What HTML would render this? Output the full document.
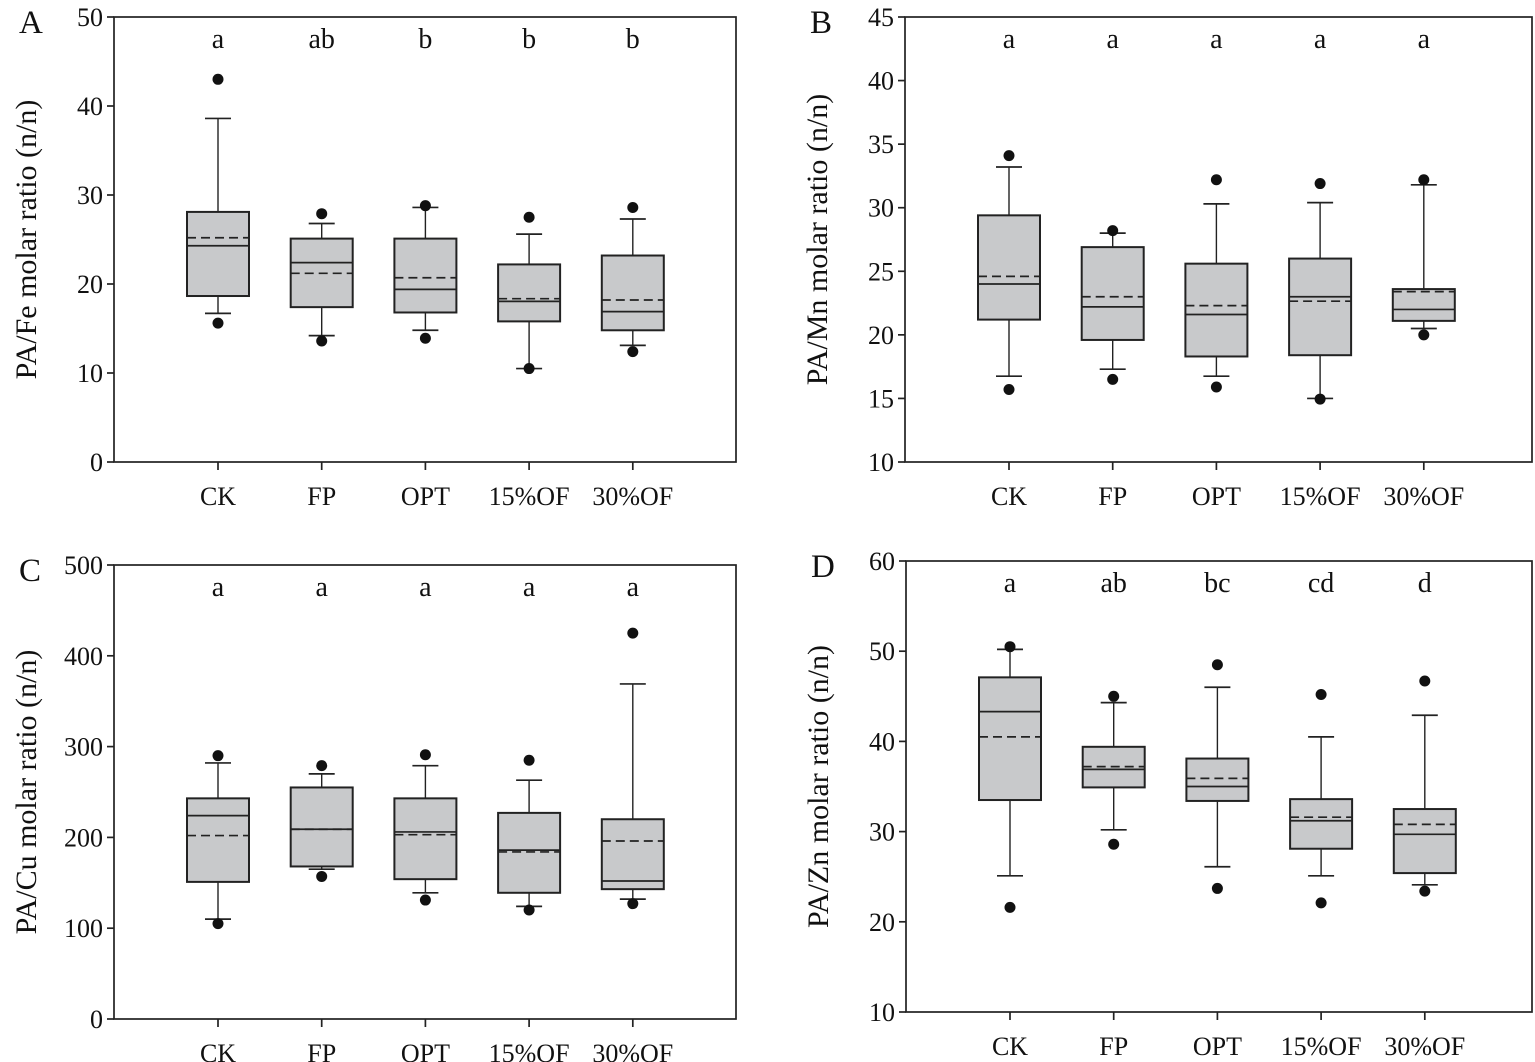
<!DOCTYPE html>
<html><head><meta charset="utf-8"><style>
html,body{margin:0;padding:0;background:#fff;}
svg{display:block;font-family:"Liberation Serif",serif;}
</style></head><body>
<svg id="fig" width="1535" height="1062" viewBox="0 0 1535 1062" xmlns="http://www.w3.org/2000/svg"></svg>
<script>
const categories = ["CK","FP","OPT","15%OF","30%OF"];
// panel A: PA/Fe
const aQ1=[18.65,17.4,16.8,15.8,14.8], aQ3=[28.1,25.1,25.1,22.2,23.2], aMed=[24.3,22.4,19.4,18.05,16.9], aMean=[25.2,21.2,20.7,18.35,18.2];
const aWLo=[16.7,14.2,14.8,10.5,13.1], aWHi=[38.6,26.8,28.6,25.6,27.3], aOutLo=[15.6,13.6,13.9,10.5,12.4], aOutHi=[43,27.9,28.8,27.5,28.6];
const aLetters=["a","ab","b","b","b"], aTicks=[0,10,20,30,40,50];
// panel B: PA/Mn
const bQ1=[21.2,19.6,18.3,18.4,21.1], bQ3=[29.4,26.9,25.6,26.0,23.6], bMed=[24.0,22.2,21.6,23.0,22.0], bMean=[24.6,23.0,22.3,22.65,23.4];
const bWLo=[16.75,17.3,16.75,15.0,20.5], bWHi=[33.2,28.0,30.3,30.4,31.8], bOutLo=[15.7,16.5,15.9,14.95,20.0], bOutHi=[34.1,28.2,32.2,31.9,32.2];
const bLetters=["a","a","a","a","a"], bTicks=[10,15,20,25,30,35,40,45];
// panel C: PA/Cu
const cQ1=[151,168,154,139,143], cQ3=[243,255,243,227,220], cMed=[224,209,206,186,152], cMean=[202,209,203,184,196];
const cWLo=[110,165,139,124,132], cWHi=[282,270,279,263,369], cOutLo=[105,157,131,120,127], cOutHi=[290,279,291,285,425];
const cLetters=["a","a","a","a","a"], cTicks=[0,100,200,300,400,500];
// panel D: PA/Zn
const dQ1=[33.5,34.9,33.4,28.1,25.4], dQ3=[47.1,39.4,38.1,33.6,32.5], dMed=[43.3,36.9,35.0,31.2,29.7], dMean=[40.5,37.2,35.9,31.6,30.8];
const dWLo=[25.1,30.2,26.1,25.1,24.1], dWHi=[50.2,44.3,46.0,40.5,42.9], dOutLo=[21.6,28.6,23.7,22.1,23.4], dOutHi=[50.5,45.0,48.5,45.2,46.7];
const dLetters=["a","ab","bc","cd","d"], dTicks=[10,20,30,40,50,60];

const NS="http://www.w3.org/2000/svg";
const svg=document.getElementById("fig");
function mk(tag,attrs,parent){const e=document.createElementNS(NS,tag);for(const k in attrs)e.setAttribute(k,attrs[k]);(parent||svg).appendChild(e);return e;}

function panel(p){
  const g=mk("g",{});
  
  
  const ymin=p.ticks[0], ymax=p.ticks[p.ticks.length-1];
  const y=v=>p.y1-(v-ymin)/(ymax-ymin)*(p.y1-p.y0);
  const x=i=>p.x0+104+i*103.7;
  const frame=mk("rect",{x:p.x0,y:p.y0,width:p.x1-p.x0,height:p.y1-p.y0,fill:"none",stroke:"#222","stroke-width":1.7},g);
  
  
  const pl=mk("text",{x:p.x0-95,y:p.y0+16,"font-size":33,fill:"#111"},g);pl.textContent=p.id;
  
  
  p.ticks.forEach(t=>{
    mk("line",{x1:p.x0-7,x2:p.x0,y1:y(t),y2:y(t),stroke:"#222","stroke-width":1.7},g);
    const tl=mk("text",{x:p.x0-11,y:y(t)+9,"font-size":26,"text-anchor":"end",fill:"#111"},g);tl.textContent=t;
    
    
  });
  const yt=mk("text",{transform:`translate(${p.x0-78},${(p.y0+p.y1)/2}) rotate(-90)`,"font-size":30,"text-anchor":"middle",fill:"#111"},g);
  yt.textContent=p.title;
  
  
  categories.forEach((c,i)=>{
    const cx=x(i), hw=31;
    mk("line",{x1:cx,x2:cx,y1:p.y1,y2:p.y1+8,stroke:"#222","stroke-width":1.7},g);
    const xl=mk("text",{x:cx,y:p.y1+43,"font-size":26,"text-anchor":"middle",fill:"#111"},g);xl.textContent=c;
    
    
    const lt=mk("text",{x:cx,y:p.y0+31,"font-size":28,"text-anchor":"middle",fill:"#111"},g);lt.textContent=p.letters[i];
    
    
    const bg=mk("g",{},g);
    
    
    mk("line",{x1:cx,x2:cx,y1:y(p.q3[i]),y2:y(p.wHi[i]),stroke:"#222","stroke-width":1.4},bg);
    mk("line",{x1:cx,x2:cx,y1:y(p.q1[i]),y2:y(p.wLo[i]),stroke:"#222","stroke-width":1.4},bg);
    mk("line",{x1:cx-13,x2:cx+13,y1:y(p.wHi[i]),y2:y(p.wHi[i]),stroke:"#222","stroke-width":1.7},bg);
    mk("line",{x1:cx-13,x2:cx+13,y1:y(p.wLo[i]),y2:y(p.wLo[i]),stroke:"#222","stroke-width":1.7},bg);
    mk("rect",{x:cx-hw,y:y(p.q3[i]),width:2*hw,height:y(p.q1[i])-y(p.q3[i]),fill:"#c8c9cb",stroke:"#222","stroke-width":2},bg);
    mk("line",{x1:cx-hw,x2:cx+hw,y1:y(p.med[i]),y2:y(p.med[i]),stroke:"#222","stroke-width":1.7},bg);
    mk("line",{x1:cx-hw,x2:cx+hw,y1:y(p.mean[i]),y2:y(p.mean[i]),stroke:"#222","stroke-width":1.7,"stroke-dasharray":"9,5"},bg);
    mk("circle",{cx:cx,cy:y(p.outHi[i]),r:5.5,fill:"#111"},bg);
    mk("circle",{cx:cx,cy:y(p.outLo[i]),r:5.5,fill:"#111"},bg);
  });
}
panel({id:"A",x0:114,x1:736,y0:17,y1:462,ticks:aTicks,title:"PA/Fe molar ratio (n/n)",letters:aLetters,q1:aQ1,q3:aQ3,med:aMed,mean:aMean,wLo:aWLo,wHi:aWHi,outLo:aOutLo,outHi:aOutHi});
panel({id:"B",x0:905,x1:1532,y0:17,y1:462,ticks:bTicks,title:"PA/Mn molar ratio (n/n)",letters:bLetters,q1:bQ1,q3:bQ3,med:bMed,mean:bMean,wLo:bWLo,wHi:bWHi,outLo:bOutLo,outHi:bOutHi});
panel({id:"C",x0:114,x1:736,y0:565,y1:1019,ticks:cTicks,title:"PA/Cu molar ratio (n/n)",letters:cLetters,q1:cQ1,q3:cQ3,med:cMed,mean:cMean,wLo:cWLo,wHi:cWHi,outLo:cOutLo,outHi:cOutHi});
panel({id:"D",x0:906,x1:1532,y0:561,y1:1012,ticks:dTicks,title:"PA/Zn molar ratio (n/n)",letters:dLetters,q1:dQ1,q3:dQ3,med:dMed,mean:dMean,wLo:dWLo,wHi:dWHi,outLo:dOutLo,outHi:dOutHi});
</script>
</body></html>
